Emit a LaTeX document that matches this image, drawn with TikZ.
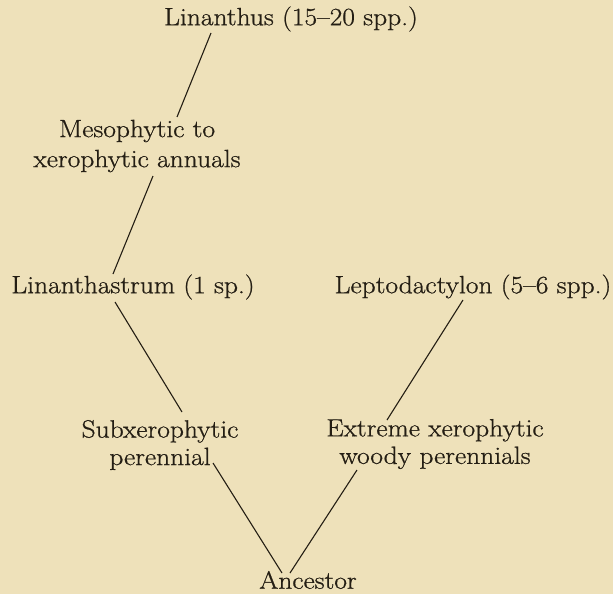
\documentclass[tikz,border=0pt]{standalone}
\usepackage{fontspec}
\setmainfont{Latin Modern Roman}[FakeStretch=1.1,FakeBold=0.8]
\definecolor{paper}{HTML}{EEE1BA}
\definecolor{ink}{HTML}{241E14}
\begin{document}
\begin{tikzpicture}[x=1pt,y=-1pt,
  lbl/.style={inner sep=0pt,align=center,text=ink,font=\fontsize{25}{30}\selectfont},
  lbltight/.style={lbl,font=\fontsize{25}{27.5}\selectfont},
  link/.style={draw=ink,line width=1.1pt}]
\fill[paper] (0,0) rectangle (613,594);
\useasboundingbox (0,0) rectangle (613,594);
\node[lbl] (lin) at (291,19) {Linanthus (15--20 spp.)};
\node[lbl] (meso) at (137,146) {Mesophytic to\\xerophytic annuals};
\node[lbl] (lina) at (133,287) {Linanthastrum (1 sp.)};
\node[lbl] (lepto) at (473,287) {Leptodactylon (5--6 spp.)};
\node[lbltight] (sub) at (160,445) {Subxerophytic\\perennial};
\node[lbltight] (ext) at (435,444) {Extreme xerophytic\\woody perennials};
\node[lbl] (anc) at (308,580) {Ancestor};
\draw[link] ([shift={(-80,14)}]lin.center) -- ([shift={(40,-29)}]meso.center);
\draw[link] ([shift={(16,30)}]meso.center) -- ([shift={(-20,-13)}]lina.center);
\draw[link] ([shift={(-18,15)}]lina.center) -- ([shift={(22,-33)}]sub.center);
\draw[link] ([shift={(53,18)}]sub.center) -- ([shift={(-26,-7)}]anc.center);
\draw[link] ([shift={(-18,-7)}]anc.center) -- ([shift={(-78,26)}]ext.center);
\draw[link] ([shift={(-10,13)}]lepto.center) -- ([shift={(-48,-24)}]ext.center);
\end{tikzpicture}
\end{document}
